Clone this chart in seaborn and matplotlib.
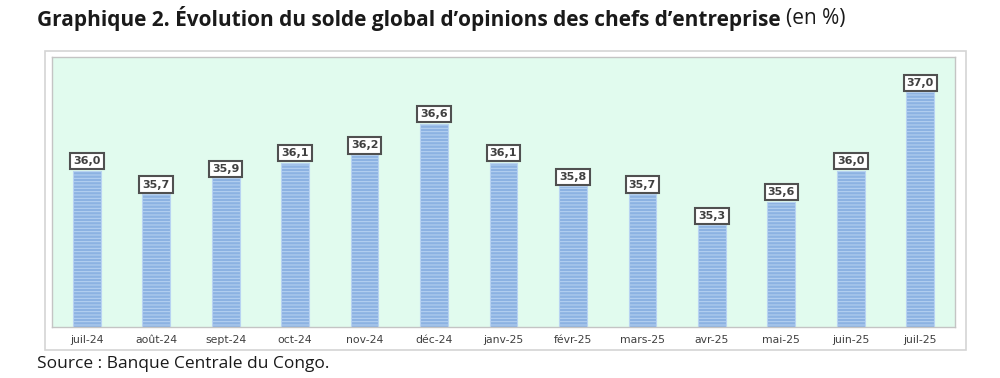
import numpy as np
import pandas as pd
import matplotlib
matplotlib.use("Agg")
import matplotlib.pyplot as plt
import seaborn as sns
from matplotlib.patches import Rectangle

# Data
mois = ['juil-24', 'août-24', 'sept-24', 'oct-24', 'nov-24', 'déc-24', 'janv-25',
        'févr-25', 'mars-25', 'avr-25', 'mai-25', 'juin-25', 'juil-25']
solde = [36.0, 35.7, 35.9, 36.1, 36.2, 36.6, 36.1, 35.8, 35.7, 35.3, 35.6, 36.0, 37.0]

df = pd.DataFrame({'mois': mois, 'solde': solde})

sns.set_style('white')
plt.rcParams['font.family'] = ['Open Sans', 'DejaVu Sans']
plt.rcParams['hatch.linewidth'] = 0.7

fig = plt.figure(figsize=(10, 3.78), dpi=100)
ax = fig.add_axes([0.052, 0.135, 0.903, 0.714])

# outer frame of the chart
fig.patches.append(Rectangle((0.045, 0.074), 0.921, 0.791, transform=fig.transFigure,
                             fill=False, edgecolor='#d4d4d4', linewidth=1.2, zorder=0))

sns.barplot(data=df, x='mois', y='solde', ax=ax, color='#8cb2e2', width=0.4,
            edgecolor='#b8d3f2', linewidth=0.8, hatch='-----', saturation=1)

ax.set_facecolor('#e1fbee')
ax.set_ylim(34.0, 37.45)
ax.set_xlim(-0.5, len(mois) - 0.5)
ax.set_yticks([])
ax.set_xlabel('')
ax.set_ylabel('')
for s in ax.spines.values():
    s.set_color('#c4c4c4')
    s.set_linewidth(1.0)
ax.set_xticks(range(len(mois)), mois, fontfamily='DejaVu Sans', fontsize=7.8, color='#404040')
ax.tick_params(axis='x', length=0, pad=6)

# value labels in boxes
for i, v in enumerate(solde):
    ax.annotate(f'{v:.1f}'.replace('.', ','), (i, v), xytext=(0, 6.8), textcoords='offset points',
                ha='center', va='center', fontsize=8, fontweight='bold', color='#404040',
                family='DejaVu Sans',
                bbox=dict(boxstyle='square,pad=0.28', fc='white', ec='#505050', lw=1.5))

# title in two parts
t1 = fig.text(0.037, 0.952, 'Graphique 2. Évolution du solde global d\u2019opinions des chefs d\u2019entreprise',
              fontsize=15, fontweight='bold', color='#1a1a1a', va='center', ha='left')
fig.canvas.draw()
bb = t1.get_window_extent()
fig.text(bb.x1 / fig.bbox.width + 0.005, 0.952, '(en %)', fontsize=15, color='#1a1a1a',
         va='center', ha='left')

fig.text(0.037, 0.038, 'Source : Banque Centrale du Congo.', fontsize=12.5, color='#1a1a1a',
         va='center', ha='left')

fig.savefig('out.png', dpi=100)
